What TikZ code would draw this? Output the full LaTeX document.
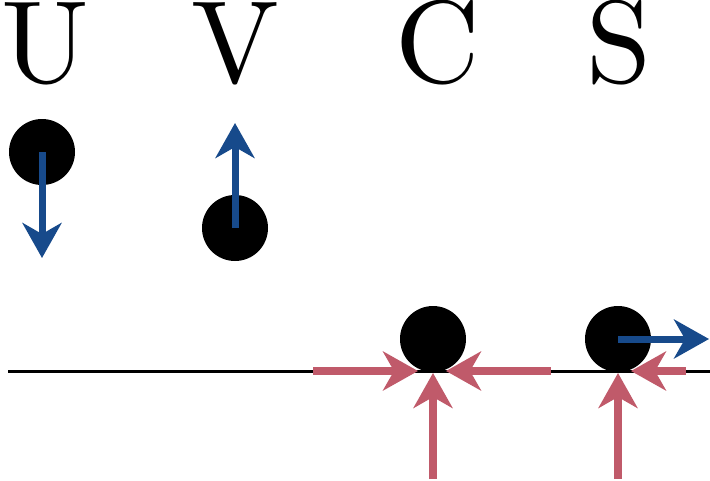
\documentclass[tikz,border=0pt]{standalone}
\usepackage{fontspec}
\newfontfamily\lmten{lmroman10-regular.otf}
\usetikzlibrary{arrows.meta}
\definecolor{pinkc}{HTML}{C05A6A}
\definecolor{bluec}{HTML}{174A8B}
\begin{document}
\begin{tikzpicture}[x=1pt,y=-1pt,
  lbl/.style={anchor=base,inner sep=0pt,font=\lmten\fontsize{117}{120}\selectfont},
  ball/.style={circle,fill=black,minimum size=66pt,inner sep=0pt},
  bluearr/.style={draw=bluec,line width=7pt,-{Stealth[length=35pt,width=39pt,inset=11pt,fill=bluec]}},
  pinkarr/.style={draw=pinkc,line width=7.5pt,-{Stealth[length=35pt,width=39pt,inset=11pt,fill=pinkc]}}]
\useasboundingbox (0,0) rectangle (710,480);
\node[lbl] (lu) at (45,82) {U};
\node[lbl] (lv) at (235,82) {V};
\node[lbl] (lc) at (438,82) {C};
\node[lbl] (ls) at (619,82) {S};
\coordinate (l0) at (8,371);
\coordinate (l1) at (710,371);
\draw[line width=3pt] (l0) -- (l1);
\node[ball] (u) at (42,152) {};
\node[ball] (v) at (235,228) {};
\node[ball] (c) at (433,339) {};
\node[ball] (s) at (618,339) {};
\coordinate (ut) at (42,258);
\coordinate (vt) at (235,123);
\coordinate (st) at (709,339);
\draw[bluearr] (u.center) -- (ut);
\draw[bluearr] (v.center) -- (vt);
\draw[bluearr] (s.center) -- (st);
\coordinate (cl0) at (313,371); \coordinate (cl1) at (418,371);
\coordinate (cr0) at (551,371); \coordinate (cr1) at (446,371);
\coordinate (cb0) at (433,479); \coordinate (cb1) at (433,373);
\coordinate (sr0) at (686,371); \coordinate (sr1) at (631,371);
\coordinate (sb0) at (618,479); \coordinate (sb1) at (618,373);
\draw[pinkarr] (cl0) -- (cl1);
\draw[pinkarr] (cr0) -- (cr1);
\draw[pinkarr] (cb0) -- (cb1);
\draw[pinkarr] (sr0) -- (sr1);
\draw[pinkarr] (sb0) -- (sb1);
\end{tikzpicture}
\end{document}
